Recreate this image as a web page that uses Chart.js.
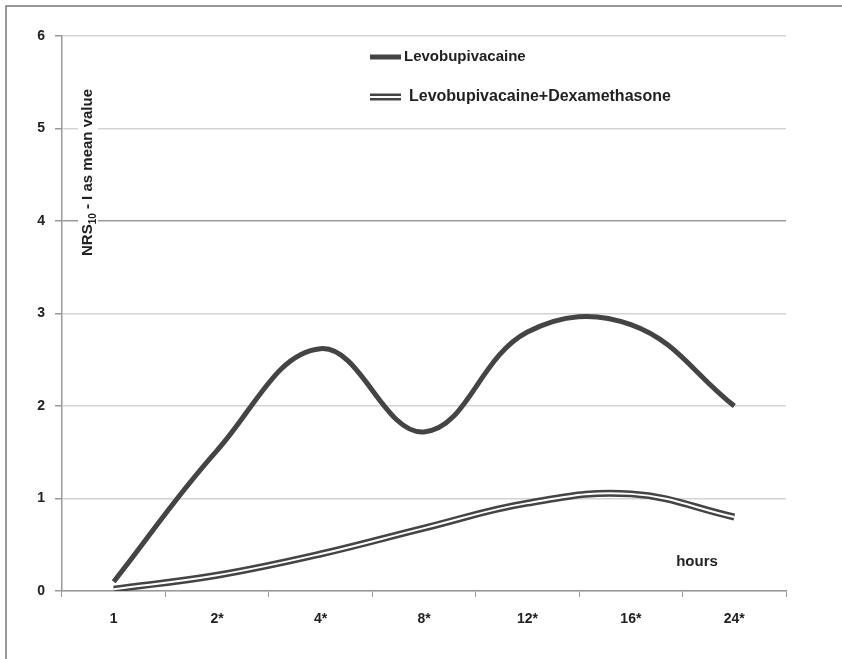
<!DOCTYPE html>
<html>
<head>
<meta charset="utf-8">
<script src="https://cdn.jsdelivr.net/npm/chart.js@4.4.1/dist/chart.umd.min.js"></script>
<style>
  html, body { margin: 0; padding: 0; background: #fff; }
  #wrap { width: 842px; height: 659px; position: relative; }
</style>
</head>
<body>
<div id="wrap"><canvas id="nrsChart" width="842" height="659"></canvas></div>
<script>
// Chart data
const hourLabels = ["1", "2*", "4*", "8*", "12*", "16*", "24*"];
const levoValues = [0.1, 1.52, 2.62, 1.72, 2.8, 2.88, 2.0];
const levoDexValues = [0.02, 0.17, 0.4, 0.68, 0.95, 1.05, 0.8];
const yTicks = [0, 1, 2, 3, 4, 5, 6];

const seriesNames = ["Levobupivacaine", "Levobupivacaine+Dexamethasone"];
const axisTitle = "NRS";
const axisTitleSub = "10";
const axisTitleRest = " - I as mean value";
const xTitle = "hours";

const FONT = "'Liberation Sans Narrow', 'Liberation Sans', Arial, sans-serif";
const DARK = "#444";

// Frame, legend and axis title drawn by hand
const decorPlugin = {
  id: "decor",
  beforeDraw(chart) {
    const ctx = chart.ctx;
    ctx.save();
    ctx.fillStyle = "#fff";
    ctx.fillRect(0, 0, chart.width, chart.height);
    ctx.strokeStyle = "#777";
    ctx.lineWidth = 1.5;
    ctx.beginPath();
    ctx.moveTo(6, chart.height);
    ctx.lineTo(6, 6);
    ctx.lineTo(chart.width, 6);
    ctx.stroke();
    ctx.restore();
  },
  afterDraw(chart) {
    const ctx = chart.ctx;
    ctx.save();

    // legend
    ctx.font = "bold 15px " + FONT;
    ctx.textBaseline = "middle";
    ctx.fillStyle = "#222";
    ctx.lineCap = "butt";
    ctx.strokeStyle = DARK;
    ctx.lineWidth = 5;
    ctx.beginPath();
    ctx.moveTo(370, 57);
    ctx.lineTo(401, 57);
    ctx.stroke();
    ctx.fillText(seriesNames[0], 404, 57);

    ctx.lineWidth = 7;
    ctx.beginPath();
    ctx.moveTo(370, 97);
    ctx.lineTo(401, 97);
    ctx.stroke();
    ctx.strokeStyle = "#fff";
    ctx.lineWidth = 2;
    ctx.beginPath();
    ctx.moveTo(370, 97);
    ctx.lineTo(401, 97);
    ctx.stroke();
    ctx.font = "bold 16px " + FONT;
    ctx.fillText(seriesNames[1], 409, 97);

    // y axis title, rotated inside the plot
    ctx.translate(88, 256);
    ctx.rotate(-Math.PI / 2);
    ctx.font = "bold 15px " + FONT;
    const w1 = ctx.measureText(axisTitle).width;
    ctx.font = "bold 10px " + FONT;
    const w2 = ctx.measureText(axisTitleSub).width;
    ctx.font = "bold 15px " + FONT;
    const w3 = ctx.measureText(axisTitleRest).width;
    ctx.fillStyle = "#fff";
    ctx.fillRect(-2, -10, w1 + w2 + w3 + 6, 20);
    ctx.fillStyle = "#222";
    ctx.textAlign = "left";
    ctx.fillText(axisTitle, 0, 0);
    ctx.font = "bold 10px " + FONT;
    ctx.fillText(axisTitleSub, w1, 5);
    ctx.font = "bold 15px " + FONT;
    ctx.fillText(axisTitleRest, w1 + w2, 0);
    ctx.setTransform(1, 0, 0, 1, 0, 0);

    // x title
    ctx.font = "bold 15px " + FONT;
    ctx.textAlign = "center";
    ctx.fillStyle = "#222";
    ctx.fillText(xTitle, 697, 562);
    ctx.restore();
  }
};

new Chart(document.getElementById("nrsChart"), {
  type: "line",
  data: {
    labels: hourLabels,
    datasets: [
      {
        label: seriesNames[0],
        data: levoValues,
        borderColor: DARK,
        borderWidth: 5,
        pointRadius: 0,
        tension: 0.4,
        fill: false,
        order: 1
      },
      {
        label: seriesNames[1],
        data: levoDexValues,
        borderColor: DARK,
        borderWidth: 7,
        pointRadius: 0,
        tension: 0.4,
        fill: false,
        order: 2
      },
      {
        label: "inner",
        data: levoDexValues,
        borderColor: "#fff",
        borderWidth: 2,
        pointRadius: 0,
        tension: 0.4,
        fill: false,
        order: 0
      }
    ]
  },
  options: {
    responsive: false,
    animation: false,
    layout: { padding: { top: 36, right: 56, left: 0, bottom: 0 } },
    plugins: {
      legend: { display: false },
      tooltip: { enabled: false }
    },
    scales: {
      x: {
        offset: true,
        grid: {
          offset: true,
          drawOnChartArea: false,
          color: "#999",
          tickLength: 6
        },
        border: { color: "#999", width: 1.5 },
        ticks: {
          color: "#222",
          padding: 14,
          font: { family: FONT, size: 14, weight: "bold" }
        },
        afterFit: s => { s.height = 68; }
      },
      y: {
        min: 0,
        max: 6,
        afterBuildTicks: s => { s.ticks = yTicks.map(v => ({ value: v })); },
        grid: {
          color: ctx => ctx.tick && ctx.tick.value === 4 ? "#999" : "#d4d4d4",
          lineWidth: 1.5,
          tickLength: 7,
          tickColor: "#999"
        },
        border: { color: "#999", width: 1.5 },
        ticks: {
          color: "#222",
          padding: 10,
          font: { family: FONT, size: 14, weight: "bold" }
        },
        afterFit: s => { s.width = 62; }
      }
    }
  },
  plugins: [decorPlugin]
});
</script>
</body>
</html>
